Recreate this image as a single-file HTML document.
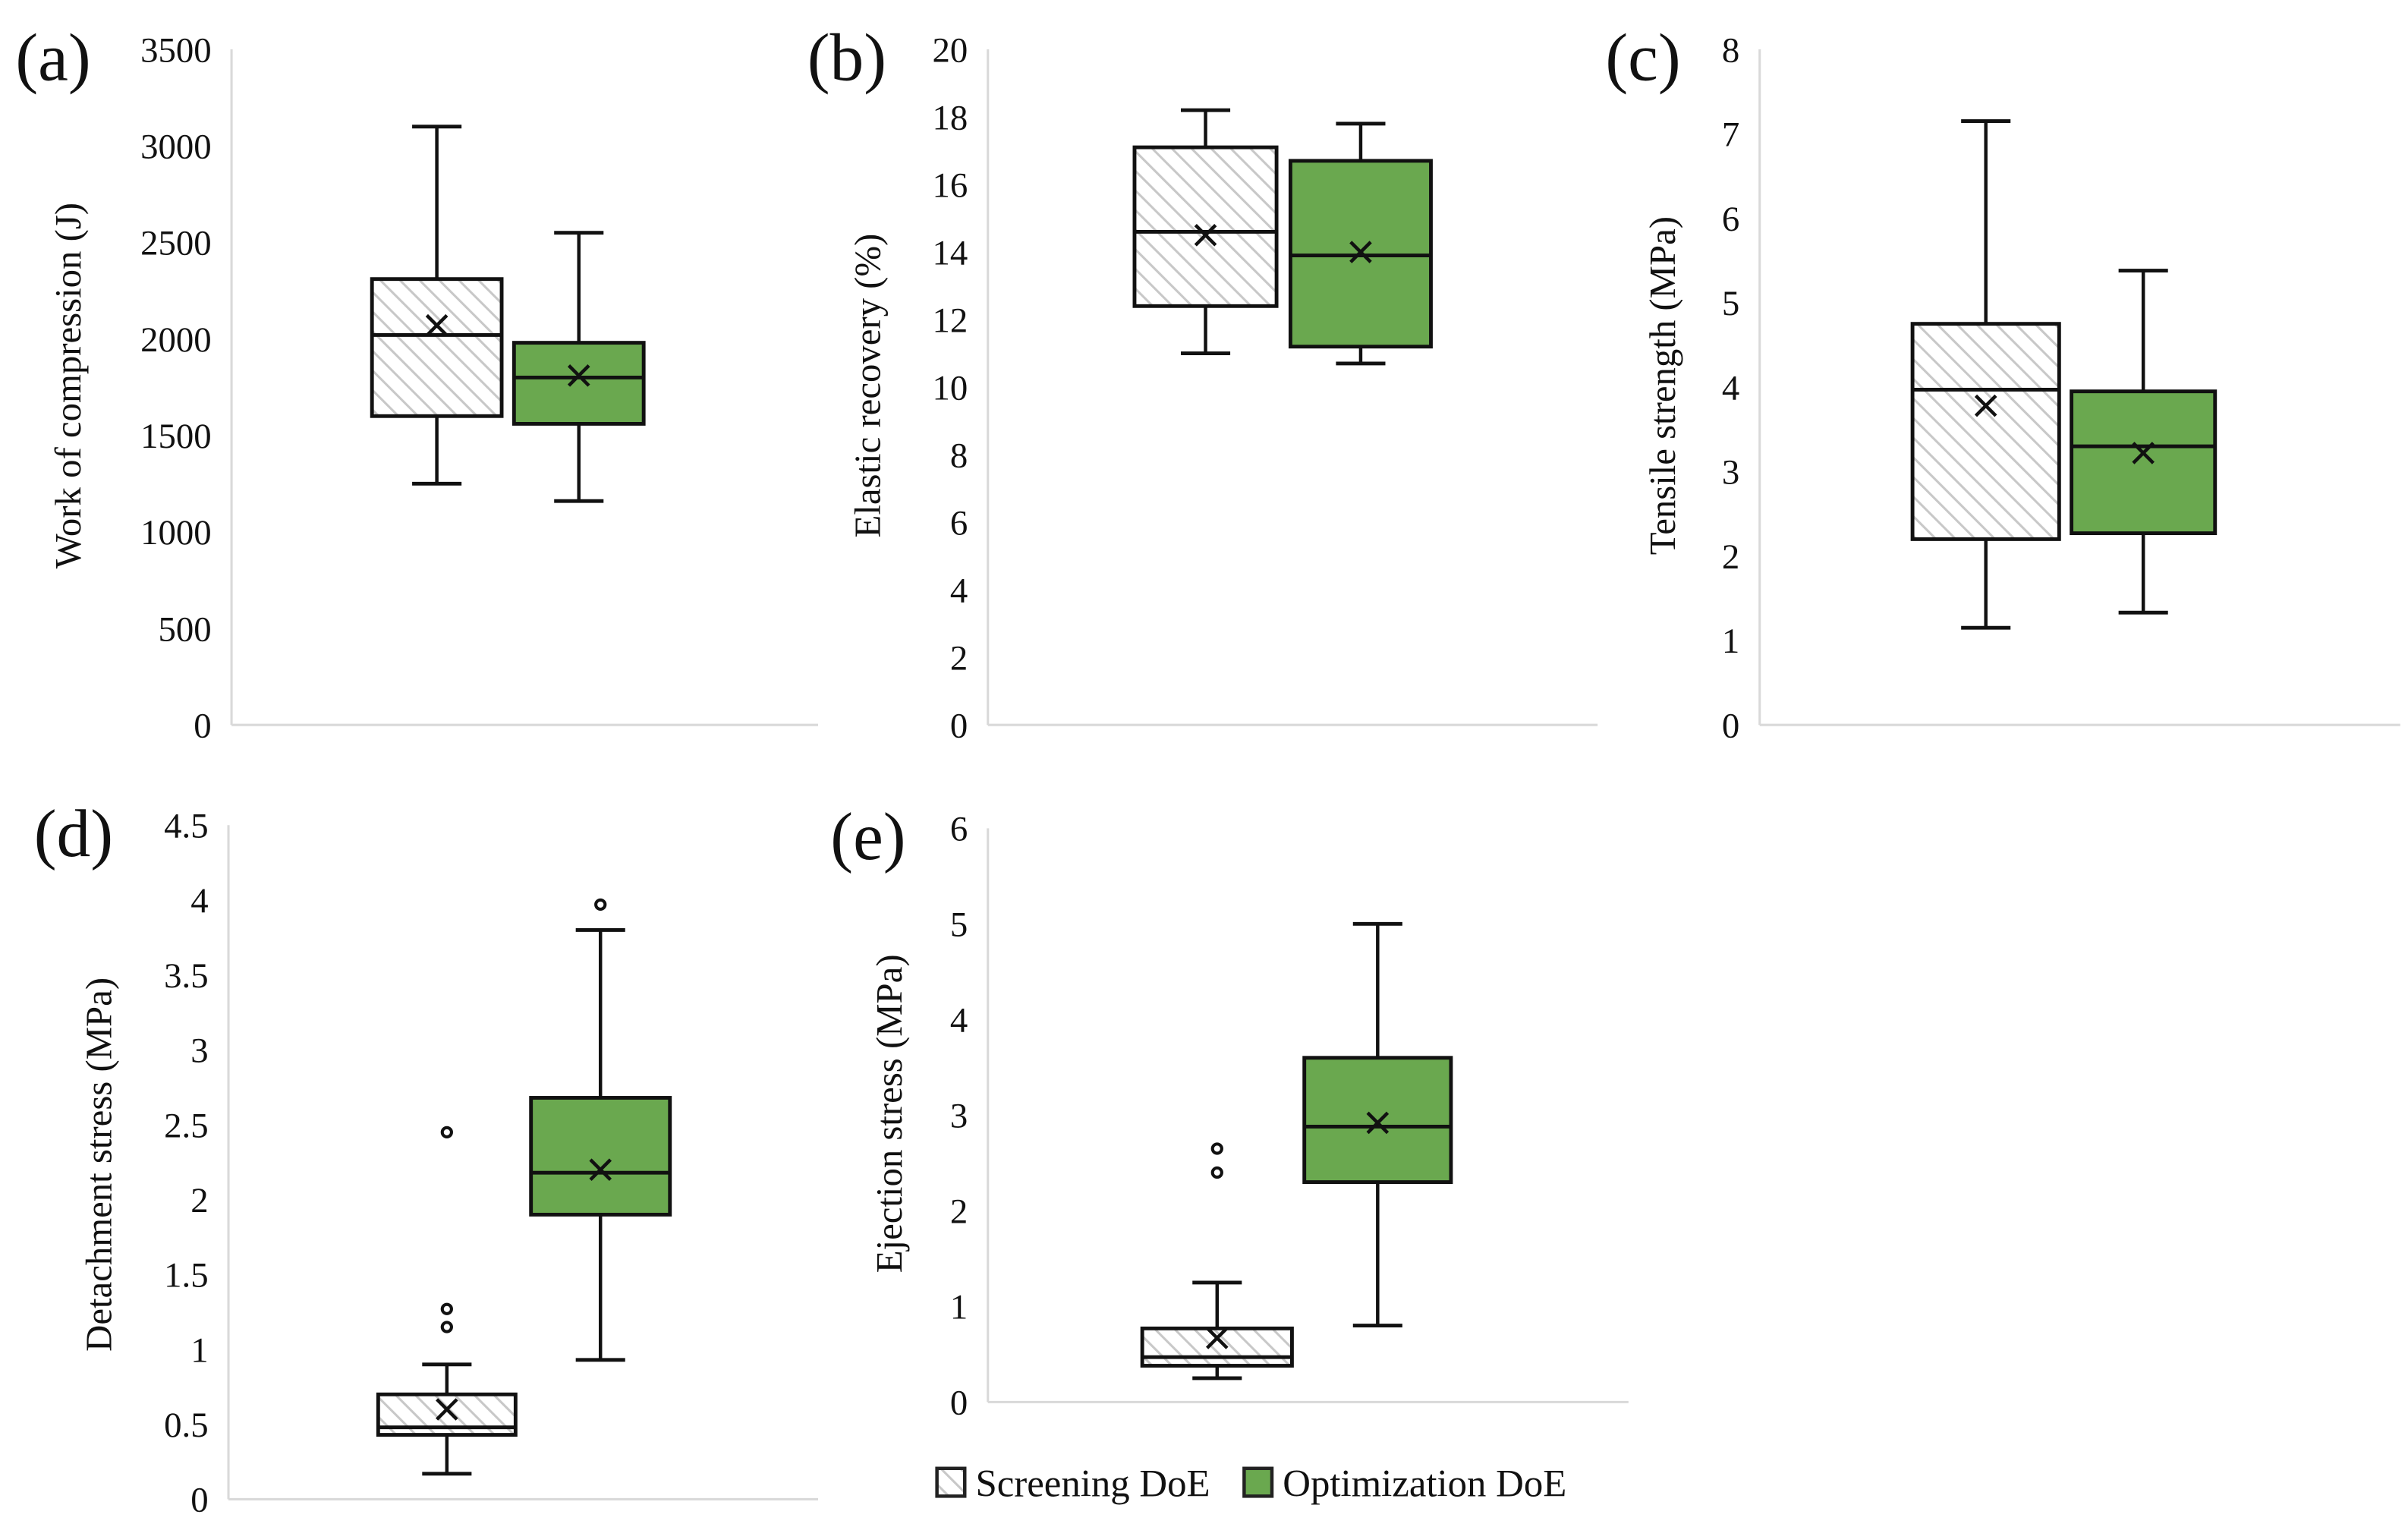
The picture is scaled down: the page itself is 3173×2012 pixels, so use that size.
<!DOCTYPE html>
<html><head><meta charset="utf-8"><style>
html,body{margin:0;padding:0;background:#fff;}
svg{display:block;}
text{font-family:"Liberation Serif",serif;fill:#111;}
</style></head><body>
<svg id="chart" width="3173" height="2012" viewBox="0 0 1560 990" preserveAspectRatio="none" xmlns="http://www.w3.org/2000/svg">
<defs>
<pattern id="hatch" patternUnits="userSpaceOnUse" width="9" height="9" patternTransform="rotate(-45)">
<rect width="9" height="9" fill="#fff"/>
<line x1="0" y1="0" x2="0" y2="9" stroke="#c8c8c8" stroke-width="3"/>
</pattern>
</defs>
<g id="root"></g>
<g>
<rect x="607" y="952" width="18" height="18" fill="url(#hatch)" stroke="#222" stroke-width="2.2"/>
<text x="632" y="970" font-size="25">Screening DoE</text>
<rect x="806" y="952" width="18" height="18" fill="#6aa84f" stroke="#222" stroke-width="2.2"/>
<text x="831" y="970" font-size="25">Optimization DoE</text>
</g>
</svg>
<script>
// Panel data: [whiskerLow, q1, median, q3, whiskerHigh, mean]
const panelLabels = ["(a)","(b)","(c)","(d)","(e)"];
const axisTitles = ["Work of compression (J)","Elastic recovery (%)","Tensile strength (MPa)","Detachment stress (MPa)","Ejection stress (MPa)"];
const axisMax = [3500,20,8,4.5,6];
const axisStep = [500,2,1,0.5,1];
const screeningStats = [
  [1250,1600,2020,2310,3100,2070],
  [11,12.4,14.6,17.1,18.2,14.5],
  [1.15,2.2,3.97,4.75,7.15,3.78],
  [0.17,0.43,0.48,0.7,0.9,0.6],
  [0.25,0.38,0.47,0.77,1.25,0.67]
];
const optimizationStats = [
  [1160,1560,1800,1980,2550,1810],
  [10.7,11.2,13.9,16.7,17.8,14.0],
  [1.33,2.27,3.3,3.95,5.38,3.22],
  [0.93,1.9,2.18,2.68,3.8,2.2],
  [0.8,2.3,2.88,3.6,5.0,2.92]
];
const screeningOutliers = [[],[],[],[1.15,1.27,2.45],[2.4,2.65]];
const optimizationOutliers = [[],[],[],[3.97],[]];

// layout (not data)
const layout = [
  {ax:150,top:32,bot:470,right:530,b1:[241,325],b2:[333,417],lx:10,ly:52,tx:52,ty:250},
  {ax:640,top:32,bot:470,right:1035,b1:[735,827],b2:[836,927],lx:523,ly:52,tx:570,ty:250},
  {ax:1140,top:32,bot:470,right:1555,b1:[1239,1334],b2:[1342,1435],lx:1040,ly:52,tx:1085,ty:250},
  {ax:148,top:535,bot:972,right:530,b1:[245,334],b2:[344,434],lx:22,ly:555,tx:72,ty:755},
  {ax:640,top:537,bot:909,right:1055,b1:[740,837],b2:[845,940],lx:538,ly:557,tx:584,ty:722}
];
const NS="http://www.w3.org/2000/svg";
const root=document.getElementById('root');
function mk(tag,attrs,parent){const e=document.createElementNS(NS,tag);for(const k in attrs)e.setAttribute(k,attrs[k]);(parent||root).appendChild(e);return e;}

panelLabels.forEach((lab,i)=>{
  const L=layout[i];
  const g=mk('g',{});
  
  
  const y=v=>L.bot-(v/axisMax[i])*(L.bot-L.top);
  const ax=mk('line',{x1:L.ax,y1:L.top,x2:L.ax,y2:L.bot,stroke:'#d9d9d9','stroke-width':1.5},g);
  
  
  const xx=mk('line',{x1:L.ax,y1:L.bot,x2:L.right,y2:L.bot,stroke:'#d9d9d9','stroke-width':1.5},g);
  
  
  const n=Math.round(axisMax[i]/axisStep[i]);
  for(let k=0;k<=n;k++){
    const v=+(k*axisStep[i]).toFixed(2);
    const t=mk('text',{x:L.ax-13,y:y(v)+8,'text-anchor':'end','font-size':23},g);
    t.textContent=String(v);
    
    
  }
  const pl=mk('text',{x:L.lx,y:L.ly,'font-size':44},g);
  pl.textContent=lab;
  
  
  const at=mk('text',{x:L.tx,y:L.ty,'text-anchor':'middle','font-size':24,transform:`rotate(-90 ${L.tx} ${L.ty})`},g);
  at.textContent=axisTitles[i];
  
  
  [[screeningStats[i],screeningOutliers[i],L.b1,'url(#hatch)','screening'],[optimizationStats[i],optimizationOutliers[i],L.b2,'#6aa84f','optimization']].forEach(([s,out,bx,fill,nm])=>{
    const bg=mk('g',{},g);
    
    
    const cx=(bx[0]+bx[1])/2, cap=16;
    mk('line',{x1:cx,y1:y(s[0]),x2:cx,y2:y(s[4]),stroke:'#111','stroke-width':2.2},bg);
    mk('line',{x1:cx-cap,y1:y(s[0]),x2:cx+cap,y2:y(s[0]),stroke:'#111','stroke-width':2.4},bg);
    mk('line',{x1:cx-cap,y1:y(s[4]),x2:cx+cap,y2:y(s[4]),stroke:'#111','stroke-width':2.4},bg);
    mk('rect',{x:bx[0],y:y(s[3]),width:bx[1]-bx[0],height:y(s[1])-y(s[3]),fill:fill,stroke:'#111','stroke-width':2.4},bg);
    mk('line',{x1:bx[0],y1:y(s[2]),x2:bx[1],y2:y(s[2]),stroke:'#111','stroke-width':2.4},bg);
    const my=y(s[5]),d=6.5;
    mk('path',{d:`M${cx-d},${my-d}L${cx+d},${my+d}M${cx-d},${my+d}L${cx+d},${my-d}`,stroke:'#111','stroke-width':2.2},bg);
    out.forEach(o=>{
      const c=mk('circle',{cx:cx,cy:y(o),r:3,fill:'#fff',stroke:'#111','stroke-width':2},bg);
      
      
    });
  });
});
</script>
</body></html>
